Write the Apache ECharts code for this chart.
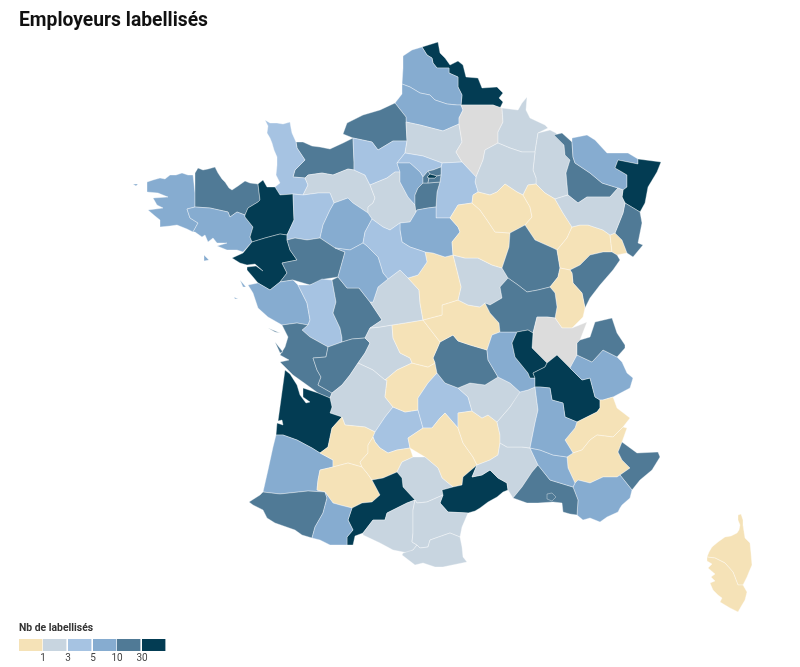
<!DOCTYPE html>
<html><head><meta charset="utf-8">
<style>html,body{margin:0;padding:0;background:#fff}#c{width:800px;height:667px}</style>
<script src="https://cdn.jsdelivr.net/npm/echarts@6/dist/echarts.min.js"></script>
</head><body><div id="c"></div>
<script>
const chartTitle = 'Employeurs labellisés';
const legendTitle = 'Nb de labellisés';
const binLabels = ['1', '3', '5', '10', '30'];
const binColors = ['#f5e2b7', '#c8d5e0', '#a6c3e2', '#86acd0', '#507a96', '#033c53'];
const binEdges = [1, 3, 5, 10, 30];
const noDataColor = '#dcdcdc';

// Estimated counts per département, read from the colour classes (null = no data)
const below1 = ['Yonne','Aube','Haute-Marne','Haute-Saône','Territoire de Belfort','Jura','Cher','Allier','Creuse','Corrèze','Lot-et-Garonne','Gers','Tarn-et-Garonne','Aveyron','Lozère','Hautes-Alpes','Alpes-de-Haute-Provence','Haute-Corse','Corse-du-Sud'];
const from1to3 = ['Oise','Ardennes','Marne','Meuse','Vosges','Orne','Eure-et-Loir','Nièvre','Indre','Haute-Vienne','Dordogne','Tarn','Aude','Ariège','Pyrénées-Orientales','Gard','Ardèche','Haute-Loire'];
const from3to5 = ['Manche','Eure','Val-d\'Oise','Seine-et-Marne','Mayenne','Loir-et-Cher','Deux-Sèvres','Lot','Cantal'];
const from5to10 = ['Pas-de-Calais','Somme','Finistère','Morbihan','Sarthe','Yvelines','Loiret','Indre-et-Loire','Vendée','Landes','Hautes-Pyrénées','Loire','Savoie','Drôme','Vaucluse','Var','Moselle'];
const from10to30 = ['Seine-Maritime','Calvados','Côtes-d\'Armor','Maine-et-Loire','Vienne','Charente-Maritime','Charente','Essonne','Hauts-de-Seine','Seine-Saint-Denis','Val-de-Marne','Meurthe-et-Moselle','Haut-Rhin','Côte-d\'Or','Doubs','Saône-et-Loire','Puy-de-Dôme','Haute-Savoie','Alpes-Maritimes','Bouches-du-Rhône','Pyrénées-Atlantiques'];
const above30 = ['Nord','Ille-et-Vilaine','Loire-Atlantique','Paris','Bas-Rhin','Rhône','Isère','Gironde','Haute-Garonne','Hérault'];
const noData = ['Aisne','Ain'];
const classValues = [0, 2, 4, 7, 15, 40];

// Hand-traced base map outlines in map units ("x,y x,y"; "|" = extra island, "!" = hole)
const outlines = {
'Nord':'422,47 438,42 440,53 445,58 450,65 458,61 463,65 466,77 478,78 482,88 497,87 503,93 499,98 503,102 500,108 493,105 461,105 462,95 458,87 458,77 449,73 449,68 437,68 433,63 432,58 427,55',
'Pas-de-Calais':'422,47 412,50 403,56 403,68 402,84 410,87 420,93 430,95 435,100 447,104 457,105 461,105 462,95 458,87 458,77 449,73 449,68 437,68 433,63 432,58 427,55',
'Somme':'402,84 410,87 420,93 430,95 435,100 447,104 457,105 461,105 463,110 459,118 459,124 443,131 420,125 406,122 406,117 395,103 402,94',
'Seine-Maritime':'343,134 347,123 363,115 380,110 395,103 406,117 406,122 407,141 393,141 378,150 372,142 353,138',
'Calvados':'296,142 303,142 312,146 320,147 330,149 343,143 353,138 354,162 354,170 348,169 333,175 322,173 308,175 305,178 293,177 295,170 305,160 297,148',
'Manche':'265,120 270,123 277,123 283,124 290,122 291,128 292,133 296,142 297,148 305,160 295,170 293,177 305,178 308,185 303,195 293,194 280,195 275,187 280,183 276,175 277,165 277,157 274,150 272,143 270,138 267,133 268,126',
'Orne':'305,178 308,175 322,173 333,175 348,169 354,170 365,175 370,185 375,198 373,203 368,207 368,213 353,203 348,198 334,203 330,193 318,193 303,195 308,185',
'Eure':'353,138 372,142 378,150 393,141 407,141 405,153 397,163 400,172 395,172 387,178 370,185 365,175 354,170 354,162',
'Eure-et-Loir':'370,185 387,178 395,172 400,172 400,182 408,197 415,205 416,212 410,222 400,223 390,230 383,227 372,219 368,213 368,207 373,203 375,198',
'Oise':'406,122 420,125 443,131 459,124 462,142 456,152 462,162 442,163 423,156 405,153 407,141',
'Aisne':'461,105 493,105 502,108 503,122 498,132 498,143 485,150 483,160 476,177 462,162 456,152 462,142 459,124 459,118 463,110',
'Ardennes':'502,108 518,110 522,103 527,97 526,110 530,118 545,125 548,128 538,133 535,152 522,152 510,148 498,143 498,132 503,122',
'Meuse':'538,133 550,130 556,133 564,145 565,155 570,160 566,173 568,195 555,199 545,193 536,184 536,178 533,170 535,152',
'Marne':'498,143 510,148 522,152 535,152 533,170 536,178 536,184 528,185 523,195 517,192 505,184 497,192 490,195 478,192 475,182 476,177 483,160 485,150',
'Seine-et-Marne':'442,163 462,162 476,177 475,182 478,192 473,195 472,203 458,205 450,218 436,218 436,207 437,192 440,182 441,175 441,167',
'Val-d\'Oise':'405,153 423,156 442,163 441,167 433,170 428,171 423,177 420,172 410,163 397,163',
'Yvelines':'397,163 410,163 420,172 423,177 423,183 418,188 415,195 415,205 408,197 400,182 400,172',
'Essonne':'418,188 423,183 428,183 440,182 437,192 436,207 428,208 417,210 416,212 415,205 415,195',
'Hauts-de-Seine':'423,177 428,171 430,174 427,177 429,178 428,183 423,183',
'Seine-Saint-Denis':'428,171 433,170 441,167 441,175 437,176 430,174',
'Val-de-Marne':'429,178 435,178 437,176 441,175 440,182 428,183',
'Paris':'427,177 430,174 437,176 435,178 429,178',
'Finistère':'147,182 153,180 160,178 165,179 170,175 176,175 182,173 188,175 193,175 195,193 195,207 187,209 190,218 198,223 193,232 187,229 177,225 170,226 160,227 160,220 155,216 148,210 163,208 157,205 153,198 168,197 158,193 147,192|133,184 138,184 136,186',
'Côtes-d\'Armor':'195,173 198,168 203,170 208,169 215,167 218,173 222,179 225,182 229,188 232,190 238,186 245,181 250,183 258,184 260,200 258,202 248,208 245,215 237,212 230,217 228,212 210,208 195,207 195,193',
'Morbihan':'187,209 195,207 210,208 228,212 230,217 237,212 245,215 245,217 253,227 250,237 252,242 243,252 237,250 227,250 217,246 227,243 217,243 213,238 208,242 205,235 202,237 195,232 193,232 198,223 190,218|204,255 209,260 204,261',
'Ille-et-Vilaine':'258,184 263,180 267,187 275,187 280,195 293,194 294,220 287,235 280,234 265,238 252,242 250,237 253,227 245,217 245,215 248,208 258,202 260,200',
'Loire-Atlantique':'252,242 265,238 280,234 287,235 287,240 290,250 297,260 282,263 287,273 280,282 270,290 258,283 253,277 247,270 247,267 256,266 263,271 255,264 247,265 240,263 232,258 243,253',
'Mayenne':'293,194 303,195 318,193 330,193 334,203 330,210 323,225 320,238 307,240 295,238 287,240 287,235 294,220',
'Sarthe':'334,203 348,198 353,203 368,213 372,219 365,232 363,243 350,250 335,248 320,238 323,225 330,210',
'Maine-et-Loire':'287,240 295,238 307,240 320,238 335,248 345,252 338,277 325,279 310,285 293,280 280,282 287,273 282,263 297,260 290,250',
'Vendée':'248,285 253,293 258,308 268,317 282,325 297,323 308,325 310,320 307,303 298,285 293,280 280,282 270,290 258,283|240,280 246,287 243,287|234,297 238,299 235,299',
'Deux-Sèvres':'298,285 310,285 322,279 332,280 336,302 333,313 340,328 342,338 342,342 328,347 310,337 302,330 308,325 310,320 307,303',
'Vienne':'332,280 338,277 347,288 359,288 370,302 382,320 370,328 365,338 352,339 342,342 342,338 340,328 333,313 336,302',
'Charente-Maritime':'283,327 282,325 297,323 308,325 302,330 310,337 328,347 326,357 313,358 317,370 321,377 318,385 332,393 330,398 318,393 307,385 293,375 280,362 289,360 280,355 285,347 288,337|268,328 280,333 275,332|275,342 283,352 280,353',
'Charente':'328,347 342,342 352,339 365,338 370,343 365,353 358,363 350,375 342,385 332,393 318,385 321,377 317,370 313,358 326,357',
'Haute-Vienne':'365,338 370,328 380,327 392,325 393,338 400,353 410,358 412,363 397,370 385,380 373,370 358,363 365,353 370,343',
'Dordogne':'358,363 373,370 385,380 387,380 385,397 393,407 385,417 375,432 365,427 345,425 342,417 330,413 332,407 330,398 332,393 342,385 350,375',
'Gironde':'285,370 290,374 297,385 300,395 306,403 310,402 303,397 303,388 318,393 330,398 332,407 330,413 342,417 332,428 328,447 320,453 312,448 297,440 283,435 276,435 277,423 283,425 282,420 278,421',
'Landes':'276,435 283,435 297,440 312,448 320,453 333,460 333,467 320,470 318,480 317,490 325,492 308,491 280,494 263,492 268,470 273,447',
'Lot-et-Garonne':'342,417 345,425 365,427 375,432 373,437 368,445 368,453 360,462 362,467 348,463 333,467 333,460 320,453 328,447 332,428',
'Gers':'320,470 333,467 348,463 362,467 367,473 372,480 380,495 372,502 362,503 352,508 340,505 333,503 325,492 317,490 318,480',
'Lot':'373,437 375,432 385,417 393,407 405,412 418,410 423,428 408,438 410,448 397,450 388,453 380,448 375,442',
'Corrèze':'385,380 397,370 412,363 428,367 435,363 437,373 428,383 418,398 418,410 405,412 393,407 385,397 387,380',
'Cantal':'437,373 445,383 458,388 468,397 472,411 458,413 458,428 445,413 440,418 432,428 423,428 418,410 418,398 428,383',
'Aveyron':'445,413 458,428 463,443 473,457 477,465 463,477 462,485 453,487 442,478 438,468 425,457 410,448 408,438 423,428 432,428 440,418',
'Lozère':'458,428 458,413 472,411 482,418 488,415 497,422 500,435 500,443 498,455 490,460 477,465 473,457 463,443',
'Tarn-et-Garonne':'373,437 375,442 380,448 388,453 397,450 410,448 413,457 402,462 397,472 383,478 372,480 367,473 362,467 360,462 368,453 368,445',
'Tarn':'413,457 425,457 438,468 442,478 453,487 442,490 443,495 427,502 417,503 415,500 403,487 402,478 397,472 402,462',
'Hérault':'442,490 453,487 462,485 463,477 477,465 472,477 482,475 490,470 498,478 507,483 508,490 503,492 497,497 488,502 480,508 475,511 468,513 448,512 440,503 443,495',
'Gard':'498,455 500,443 507,447 522,447 530,448 538,465 532,472 522,487 513,498 508,490 507,483 498,478 490,470 482,475 472,477 477,465 490,460',
'Ardèche':'497,422 510,407 519,392 528,390 535,387 538,410 535,423 530,448 522,447 507,447 500,443 500,435',
'Haute-Loire':'458,388 470,383 485,385 498,377 510,383 520,392 519,392 510,407 497,422 488,415 482,418 472,411 468,397',
'Puy-de-Dôme':'453,335 458,341 470,345 487,350 488,360 498,377 485,385 470,383 458,388 445,383 437,373 435,363 433,358 440,342',
'Creuse':'392,325 405,323 423,320 440,342 433,358 435,363 428,367 412,363 410,358 400,353 393,338',
'Indre':'370,302 373,302 378,287 388,279 400,270 408,278 419,290 420,303 423,320 405,323 392,325 380,327 370,328 382,320',
'Allier':'423,320 442,315 442,305 458,300 468,305 480,307 485,303 490,313 499,323 500,332 492,335 487,350 470,345 458,341 453,335 440,342',
'Loire':'500,332 517,332 512,343 515,357 528,373 530,378 535,378 535,387 528,390 520,392 510,383 498,377 488,360 487,350 492,335',
'Nièvre':'453,255 465,258 478,258 492,265 502,268 508,278 500,287 502,298 490,305 485,303 480,307 468,305 458,300 461,287 455,263',
'Cher':'425,252 433,253 445,257 453,255 455,263 461,287 458,300 442,305 442,315 423,320 420,303 419,290 408,278 418,275 427,262',
'Loiret':'416,212 417,210 428,208 436,207 436,218 450,218 458,227 460,232 452,242 453,255 445,257 433,253 425,252 410,247 402,242 400,230 400,223 410,222',
'Loir-et-Cher':'372,219 383,227 390,230 400,223 400,230 402,242 410,247 425,252 427,262 418,275 408,278 400,270 388,279 383,273 378,257 367,246 363,243 365,232',
'Indre-et-Loire':'335,248 350,250 363,243 367,246 378,257 383,273 388,279 378,287 373,302 370,302 359,288 347,288 338,277 345,252',
'Yonne':'458,205 472,203 480,210 487,220 495,232 510,233 509,247 502,268 492,265 478,258 465,258 453,255 452,242 460,232 458,227 450,218',
'Aube':'473,195 478,192 490,195 497,192 505,184 517,192 523,195 530,207 532,217 525,225 510,233 495,232 487,220 480,210 472,203',
'Haute-Marne':'523,195 528,185 536,184 545,193 555,199 563,213 572,227 567,238 557,250 553,248 535,240 525,225 532,217 530,207',
'Côte-d\'Or':'510,233 525,225 535,240 553,248 557,250 560,268 558,277 550,287 538,290 527,292 518,285 508,278 502,268 509,247',
'Haute-Saône':'557,250 567,238 572,227 580,225 588,225 603,230 610,235 612,252 603,252 590,255 580,265 570,270 560,268',
'Territoire de Belfort':'610,235 615,233 622,240 627,253 617,255 612,252',
'Doubs':'570,270 580,265 590,255 603,252 612,252 617,255 620,260 613,270 600,285 590,298 585,308 582,293 573,283 572,273',
'Jura':'560,268 570,270 572,273 573,283 582,293 585,308 583,317 572,328 562,328 555,318 557,307 555,293 550,287 558,277',
'Saône-et-Loire':'508,278 518,285 527,292 538,290 550,287 555,293 557,307 555,318 547,317 537,317 533,333 528,330 517,332 500,332 499,323 490,313 485,303 490,305 502,298 500,287',
'Ain':'537,317 547,317 555,318 562,328 572,328 587,322 580,340 577,343 577,355 570,368 557,355 547,363 532,348 533,333',
'Rhône':'512,343 517,332 528,330 533,333 532,348 547,363 545,367 533,373 535,378 530,378 528,373 515,357',
'Isère':'535,378 533,373 545,367 547,363 557,355 570,368 582,380 590,378 595,397 600,400 600,408 597,412 577,422 565,417 563,403 552,400 550,388 540,387 535,387',
'Savoie':'570,368 577,355 592,362 603,350 617,357 622,362 627,373 633,378 630,388 613,397 603,400 600,400 595,397 590,378 582,380',
'Haute-Savoie':'577,343 580,340 590,337 595,322 612,318 617,333 625,345 625,348 617,357 603,350 592,362 577,355',
'Hautes-Alpes':'600,408 600,400 603,400 613,397 617,408 630,418 623,427 613,437 597,435 590,440 582,450 573,453 565,440 575,428 577,422 597,412',
'Alpes-de-Haute-Provence':'567,457 573,453 582,450 590,440 597,435 613,437 623,427 627,428 622,442 618,452 622,460 630,468 620,475 617,477 603,477 590,483 578,480 575,483 568,468',
'Alpes-Maritimes':'622,442 637,453 658,452 660,457 652,470 640,480 632,490 620,475 630,468 622,460 618,452',
'Var':'575,483 578,480 590,483 603,477 617,477 620,475 632,490 630,498 622,505 620,508 618,512 607,517 600,522 590,518 583,520 577,515 578,500 573,487',
'Bouches-du-Rhône':'532,472 538,465 550,480 573,487 578,500 577,515 570,514 563,512 562,503 553,502 538,503 527,503 513,498 522,487!547,494 552,493 556,497 552,501 547,499',
'Vaucluse':'530,448 540,450 553,455 567,457 568,468 575,483 573,487 550,480 538,465',
'Drôme':'535,387 540,387 550,388 552,400 563,403 565,417 577,422 575,428 565,440 573,453 567,457 553,455 540,450 530,448 535,423 538,410',
'Haute-Garonne':'372,480 383,478 397,472 402,478 403,487 415,500 407,503 397,508 387,513 385,520 373,520 363,533 355,536 353,545 347,545 347,537 353,530 348,520 352,508 362,503 372,502 380,495',
'Ariège':'415,500 413,510 413,533 412,542 417,545 413,550 408,553 403,552 393,550 380,543 363,535 363,533 373,520 385,520 387,513 397,508 407,503',
'Aude':'415,500 417,503 427,502 443,495 440,503 448,512 468,513 462,527 460,537 450,533 430,540 428,547 420,548 417,545 412,542 413,533 413,510',
'Pyrénées-Orientales':'403,553 413,550 417,545 420,548 428,547 430,540 450,533 460,537 462,547 463,557 467,562 443,567 435,567 423,563 415,565 402,555',
'Pyrénées-Atlantiques':'263,492 280,494 308,491 325,492 327,498 323,513 315,527 312,538 302,535 295,530 275,523 267,518 263,510 253,505 249,502 260,495',
'Hautes-Pyrénées':'325,492 333,503 340,505 352,508 348,520 353,530 347,537 347,545 340,545 330,545 320,540 312,538 315,527 323,513 327,498',
'Haute-Corse':'738,515 741,514 743,520 743,525 745,538 750,543 751,553 752,565 749,572 747,577 743,585 738,585 733,572 725,563 715,558 707,557 709,552 712,547 718,542 725,537 731,536 737,533 739,530 740,525 738,520',
'Corse-du-Sud':'707,557 715,558 725,563 733,572 738,585 743,585 747,592 745,600 742,605 738,612 730,608 720,602 722,598 718,595 713,590 710,583 715,581 711,577 715,574 708,568 712,564 707,561',
'Meurthe-et-Moselle':'554,135 562,133 572,142 573,157 575,163 590,173 602,183 618,188 610,197 598,197 587,197 578,203 568,195 566,173 570,160 565,155 564,145',
'Moselle':'572,138 587,135 595,140 607,153 617,153 628,153 638,159 638,164 618,160 615,168 622,172 627,175 627,187 623,190 618,188 602,183 590,173 575,163 573,157 572,142',
'Bas-Rhin':'638,159 661,162 657,172 648,187 645,203 640,212 625,203 622,197 623,190 627,187 627,175 622,172 615,168 618,160 638,164',
'Haut-Rhin':'625,203 640,212 642,223 638,243 643,245 633,257 627,253 622,240 615,233 623,213',
'Vosges':'555,199 568,195 578,203 587,197 598,197 610,197 618,188 623,190 622,197 625,203 623,213 615,233 610,235 603,230 588,225 580,225 572,227 563,213'
};

const ring = s => s.trim().split(' ').map(p => { const [x, y] = p.split(',').map(Number); return [x, -y]; });
const features = Object.keys(outlines).map(name => ({
  type: 'Feature', properties: { name },
  geometry: { type: 'MultiPolygon', coordinates: outlines[name].split('|').map(part => part.split('!').map(ring)) }
}));
echarts.registerMap('france', { type: 'FeatureCollection', features });

const classes = [below1, from1to3, from3to5, from5to10, from10to30, above30];
const seriesData = classes.flatMap((names, i) => names.map(name => ({ name, value: classValues[i] })))
  .concat(noData.map(name => ({ name, value: null })));

const pieces = binColors.map((color, i) => ({
  min: i === 0 ? -Infinity : binEdges[i - 1],
  max: i === binEdges.length ? Infinity : binEdges[i],
  color
}));

const cellX = [19, 43, 68, 93, 117, 142], cellW = 23.4;
const legend = [
  { type: 'text', left: 19, top: 623, style: { text: legendTitle, font: 'bold 10.4px Roboto', fill: '#333' } }
].concat(binColors.map((fill, i) => ({ type: 'rect', shape: { x: cellX[i], y: 639, width: cellW, height: 12 }, style: { fill } })))
 .concat(binLabels.map((text, i) => ({ type: 'text', x: cellX[i + 1], y: 653, style: { text, font: '10px Roboto', fill: '#444', textAlign: 'center' } })));

const chart = echarts.init(document.getElementById('c'), null, { renderer: 'canvas' });
chart.setOption({
  animation: false,
  backgroundColor: '#fff',
  title: { text: chartTitle, left: 14, top: 7, textStyle: { fontFamily: 'Roboto', fontWeight: 'bold', fontSize: 19.3, color: '#111' } },
  visualMap: { show: false, type: 'piecewise', pieces, seriesIndex: 0 },
  series: [{
    type: 'map', map: 'france', aspectScale: 1, roam: false, silent: true,
    left: 133, top: 42, width: 619, height: 570,
    label: { show: false },
    itemStyle: { areaColor: noDataColor, borderColor: 'rgba(255,255,255,0.45)', borderWidth: 0.8 },
    data: seriesData
  }],
  graphic: legend
});
</script></body></html>
